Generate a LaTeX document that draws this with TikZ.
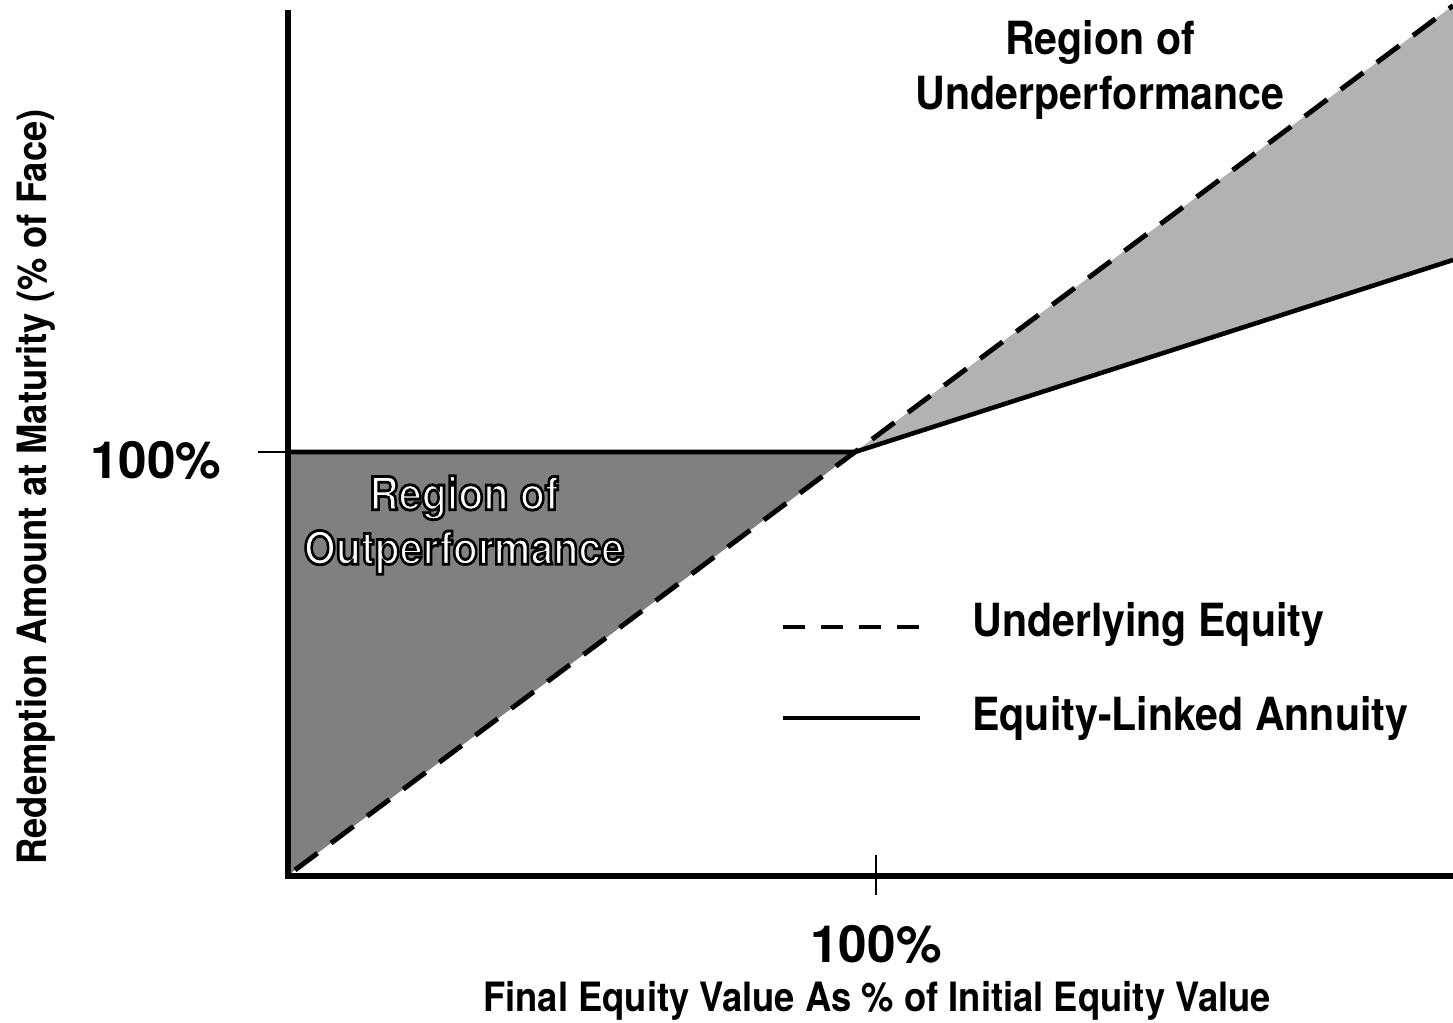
\documentclass[tikz,border=0pt]{standalone}
\usepackage{fontspec}
\setmainfont{TeX Gyre Heros}
\usepackage{xcolor}

% Umrissschrift (weiss gefuellt, schwarz umrandet)
\newcommand{\outlinetext}[1]{\special{pdf:literal direct 0 G 2 Tr 0.8 w}#1\special{pdf:literal direct 0 Tr}}

\begin{document}
\begin{tikzpicture}[
    axis/.style={line width=1.8pt},
    tickline/.style={line width=0.7pt},
    equity/.style={line width=1.4pt,dash pattern=on 0.28cm off 0.17cm},
    annuity/.style={line width=1.3pt},
    label/.style={font=\bfseries\fontsize{14.6}{17}\selectfont},
    title/.style={font=\bfseries\fontsize{11.5}{14}\selectfont},
    region/.style={font=\bfseries\fontsize{13}{15.5}\selectfont,align=center,xscale=0.9},
  ]
    \pgfmathsetmacro{\originX}{2.88}
    \pgfmathsetmacro{\originY}{1.47}
    \pgfmathsetmacro{\kinkX}{8.55}
    \pgfmathsetmacro{\kinkY}{5.71}
    \pgfmathsetmacro{\rightEdge}{14.53}
    \pgfmathsetmacro{\equitySlope}{(\kinkY-1.53)/(\kinkX-2.95)}
    \pgfmathsetmacro{\equityEnd}{\kinkY+(\rightEdge-\kinkX)*\equitySlope}
    \pgfmathsetmacro{\annuityEnd}{7.63}

    \useasboundingbox (0,0) rectangle (14.53,10.23);

    % Punkte
    \coordinate (O) at (\originX,\originY);
    \coordinate (K) at (\kinkX,\kinkY);
    \coordinate (L) at (\originX,\kinkY);
    \coordinate (E0) at (2.95,1.53);
    \coordinate (E1) at (\rightEdge,\equityEnd);
    \coordinate (A1) at (\rightEdge,\annuityEnd);

    % Outperformance
    \fill[black!50] (L) -- (K) -- (E0) -- (O) -- cycle;

    % Underperformance
    \fill[black!30] (K) -- (E1) -- (A1) -- cycle;

    % Achsen
    \coordinate (ytop) at (\originX,10.13);
    \coordinate (xend) at (\rightEdge,\originY);
    \draw[axis] (ytop) -- (O) -- (xend);

    % Markierungen
    \coordinate (ytick) at (2.58,\kinkY);
    \draw[tickline] (ytick) -- (L);
    \coordinate (xtickA) at (8.76,1.68);
    \coordinate (xtickB) at (8.76,1.28);
    \draw[tickline] (xtickA) -- (xtickB);

    % Annuitaet
    \draw[annuity] (L) -- (K) -- (A1);

    % Aktie
    \draw[equity] (E0) -- (E1);

    % Beschriftung
    \node[label] (ylab) at (1.56,5.63) {100\%};
    \node[label] (xlab) at (8.76,0.79) {100\%};
    \node[title,xscale=0.9] (xtitle) at (8.77,0.22) {Final Equity Value As \% of Initial Equity Value};
    \node[title,rotate=90,xscale=0.9] (ytitle) at (0.36,5.36) {Redemption Amount at Maturity (\% of Face)};

    % Regionen
    \node[region] (under) at (11.0,9.53) {Region of\\Underperformance};
    \node[region,text=white] (out) at (4.64,4.98) {\outlinetext{Region of}\\\outlinetext{Outperformance}};

    % Legende
    \coordinate (legA) at (7.83,3.96);
    \coordinate (legB) at (9.2,3.96);
    \draw[equity,dash pattern=on 0.22cm off 0.16cm] (legA) -- (legB);
    \node[region,anchor=west] (legEquity) at (9.61,3.99) {Underlying Equity};
    \coordinate (legC) at (7.83,3.05);
    \coordinate (legD) at (9.2,3.05);
    \draw[annuity] (legC) -- (legD);
    \node[region,anchor=west] (legAnnuity) at (9.61,3.05) {Equity-Linked Annuity};
  \end{tikzpicture}
\end{document}
